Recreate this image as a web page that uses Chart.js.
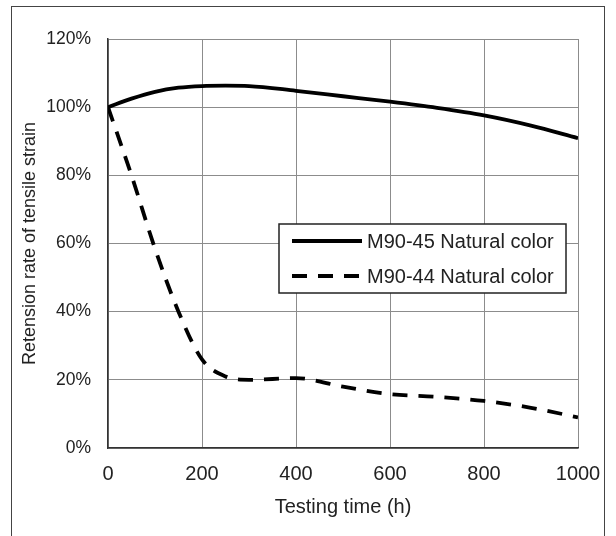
<!DOCTYPE html>
<html>
<head>
<meta charset="utf-8">
<script src="https://cdn.jsdelivr.net/npm/chart.js@4"></script>
<style>
  html, body { margin: 0; padding: 0; background: #fff; }
  #wrap { position: relative; width: 616px; height: 536px; }
  #frame { position: absolute; left: 11px; top: 6px; width: 594px; height: 540px; border: 1.5px solid #444; box-sizing: border-box; }
  canvas { position: absolute; left: 0; top: 0; }
</style>
</head>
<body>
<div id="wrap">
  <div id="frame"></div>
  <canvas id="myChart" width="616" height="536"></canvas>
</div>
<script>
const hours = [0, 50, 100, 150, 200, 250, 300, 400, 500, 600, 700, 800, 900, 1000];
const m9045 = [100, 102.5, 104.5, 105.7, 106.2, 106.3, 106.2, 104.8, 103.2, 101.6, 99.8, 97.6, 94.6, 90.9];
const m9044 = [100, 80, 58.5, 40, 26, 21, 20, 20.5, 18, 15.8, 15, 13.8, 11.8, 9];
const seriesNames = ["M90-45 Natural color", "M90-44 Natural color"];
const yTicks = [0, 20, 40, 60, 80, 100, 120];
const xTicks = [0, 200, 400, 600, 800, 1000];

const font = "'Liberation Sans', Arial, sans-serif";
const dash = [15, 11];

// legend box drawn inside the plot, like the original
const legendBox = {
  id: "legendBox",
  afterDatasetsDraw(chart) {
    const ctx = chart.ctx;
    const x = 279, y = 224, w = 287, h = 69;
    ctx.save();
    ctx.fillStyle = "#fff";
    ctx.fillRect(x, y, w, h);
    ctx.strokeStyle = "#222";
    ctx.lineWidth = 1.5;
    ctx.strokeRect(x, y, w, h);
    chart.data.datasets.forEach((ds, i) => {
      const cy = y + 17 + i * 35;
      ctx.beginPath();
      ctx.setLineDash(ds.borderDash || []);
      ctx.lineWidth = 4;
      ctx.strokeStyle = "#000";
      ctx.moveTo(292, cy);
      ctx.lineTo(362, cy);
      ctx.stroke();
      ctx.setLineDash([]);
      ctx.fillStyle = "#222";
      ctx.font = "20px " + font;
      ctx.textBaseline = "middle";
      ctx.fillText(ds.label, 367, cy + 1);
    });
    ctx.restore();
  },
};

const myChart = new Chart("myChart", {
  type: "line",
  data: {
    datasets: [
      {
        label: seriesNames[0],
        data: hours.map((h, i) => ({ x: h, y: m9045[i] })),
        borderColor: "#000",
        borderWidth: 3.8,
        pointRadius: 0,
        cubicInterpolationMode: "monotone",
      },
      {
        label: seriesNames[1],
        data: hours.map((h, i) => ({ x: h, y: m9044[i] })),
        borderColor: "#000",
        borderWidth: 3.8,
        borderDash: dash,
        pointRadius: 0,
        cubicInterpolationMode: "monotone",
      },
    ],
  },
  options: {
    responsive: false,
    animation: false,
    layout: { padding: { left: 0, top: 39, right: 38, bottom: 0 } },
    plugins: {
      legend: { display: false },
      tooltip: { enabled: false },
    },
    scales: {
      x: {
        type: "linear",
        min: 0,
        max: 1000,
        afterBuildTicks: (s) => { s.ticks = xTicks.map((v) => ({ value: v })); },
        afterFit: (s) => { s.height = 88; },
        grid: { color: "#8c8c8c", lineWidth: 1, drawTicks: false },
        border: { color: "#333", width: 1.5 },
        ticks: {
          color: "#222",
          padding: 14,
          font: { family: font, size: 20 },
          callback: (v) => String(v),
        },
        title: {
          display: true,
          text: "Testing time (h)",
          color: "#222",
          padding: { top: 4, bottom: 17 },
          font: { family: font, size: 20 },
        },
      },
      y: {
        min: 0,
        max: 120,
        afterBuildTicks: (s) => { s.ticks = yTicks.map((v) => ({ value: v })); },
        afterFit: (s) => { s.width = 108; },
        grid: { color: "#8c8c8c", lineWidth: 1, drawTicks: false },
        border: { color: "#333", width: 1.5 },
        ticks: {
          color: "#222",
          padding: 17,
          font: { family: font, size: 17.5 },
          callback: (v) => v + "%",
        },
        title: {
          display: true,
          text: "Retension rate of tensile strain",
          color: "#222",
          padding: { top: 19, bottom: 0 },
          font: { family: font, size: 18 },
        },
      },
    },
  },
  plugins: [legendBox],
});
</script>
</body>
</html>
